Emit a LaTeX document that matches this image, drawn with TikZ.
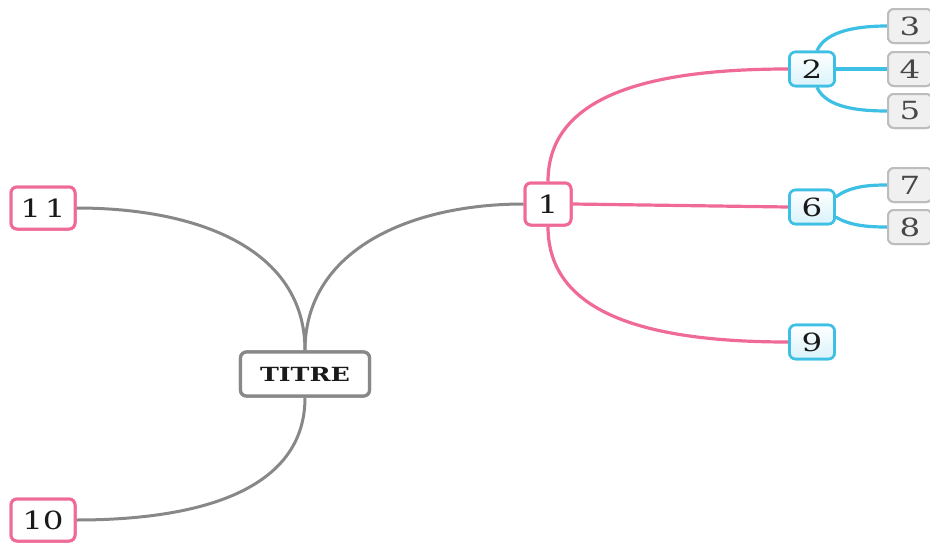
\documentclass[tikz,border=0pt]{standalone}
\usepackage{fontspec}
\setmainfont{DejaVu Serif}
\usepackage{graphicx}
\definecolor{pinkc}{HTML}{F06A98}
\definecolor{cyanc}{HTML}{3EC0E4}
\definecolor{grayl}{HTML}{888888}
\definecolor{boxg}{HTML}{BDBDBD}
\definecolor{txt}{HTML}{1A1A1A}
\newcommand{\wide}[1]{\scalebox{1.3}[1]{#1}}
\begin{document}
\begin{tikzpicture}[x=1pt,y=-1pt,
  base/.style={rounded corners=6pt, line width=3pt, inner sep=0pt, text=txt, font=\fontsize{25}{25}\selectfont},
  pinkbox/.style={base, draw=pinkc, fill=white, minimum width=46pt, minimum height=42pt},
  wpinkbox/.style={base, draw=pinkc, fill=white, minimum width=64pt, minimum height=42pt},
  bluebox/.style={base, draw=cyanc, top color=white, bottom color=cyanc!20, minimum width=45pt, minimum height=34pt, line width=2.6pt},
  graybox/.style={base, draw=boxg, fill=gray!12, minimum width=44pt, minimum height=34pt, line width=2pt, text=black!72},
  rootbox/.style={base, draw=grayl, fill=white, minimum width=129pt, minimum height=44pt, line width=3.2pt},
  gline/.style={draw=grayl, line width=3pt},
  pline/.style={draw=pinkc, line width=3.2pt},
  cline/.style={draw=cyanc, line width=3.2pt}
]
\useasboundingbox (0,0) rectangle (930,544);
% nodes (placed first for anchors)
\node[rootbox] (t) at (305,374) {\wide{\fontsize{19.5}{20}\selectfont\bfseries TITRE}};
\node[pinkbox] (n1) at (548,204) {\wide{1}};
\node[wpinkbox] (n11) at (43,208) {\wide{1\kern3pt 1}};
\node[wpinkbox] (n10) at (43,520) {\wide{10}};
\node[bluebox] (n2) at (812,69) {\wide{2}};
\node[bluebox] (n6) at (812,207) {\wide{6}};
\node[bluebox] (n9) at (812,342) {\wide{9}};
\node[graybox] (n3) at (910,26) {\wide{3}};
\node[graybox] (n4) at (910,69) {\wide{4}};
\node[graybox] (n5) at (910,111) {\wide{5}};
\node[graybox] (n7) at (910,185) {\wide{7}};
\node[graybox] (n8) at (910,227) {\wide{8}};
% connectors
\draw[gline] (t.north) .. controls (305,250) and (410,204) .. (n1.west);
\draw[gline] (t.north) .. controls (305,250) and (200,208) .. (n11.east);
\draw[gline] (t.south) .. controls (305,490) and (200,520) .. (n10.east);
\draw[pline] (n1.north) .. controls (548,95) and (650,69) .. (n2.west);
\draw[pline] (n1.east) -- (n6.west);
\draw[pline] (n1.south) .. controls (548,315) and (650,342) .. (n9.west);
\draw[cline] ([xshift=5pt]n2.north) .. controls (826,30) and (860,26) .. (n3.west);
\draw[cline] (n2.east) -- (n4.west);
\draw[cline] ([xshift=5pt]n2.south) .. controls (826,108) and (860,111) .. (n5.west);
\draw[cline] ([yshift=10pt]n6.east) .. controls (850,186) and (870,185) .. (n7.west);
\draw[cline] ([yshift=-10pt]n6.east) .. controls (850,226) and (870,227) .. (n8.west);
% redraw nodes above lines
\node[rootbox] at (t) {\wide{\fontsize{19.5}{20}\selectfont\bfseries TITRE}};
\node[pinkbox] at (n1) {\wide{1}};
\node[wpinkbox] at (n11) {\wide{1\kern3pt 1}};
\node[wpinkbox] at (n10) {\wide{10}};
\node[bluebox] at (n2) {\wide{2}};
\node[bluebox] at (n6) {\wide{6}};
\node[bluebox] at (n9) {\wide{9}};
\node[graybox] at (n3) {\wide{3}};
\node[graybox] at (n4) {\wide{4}};
\node[graybox] at (n5) {\wide{5}};
\node[graybox] at (n7) {\wide{7}};
\node[graybox] at (n8) {\wide{8}};
\end{tikzpicture}
\end{document}
